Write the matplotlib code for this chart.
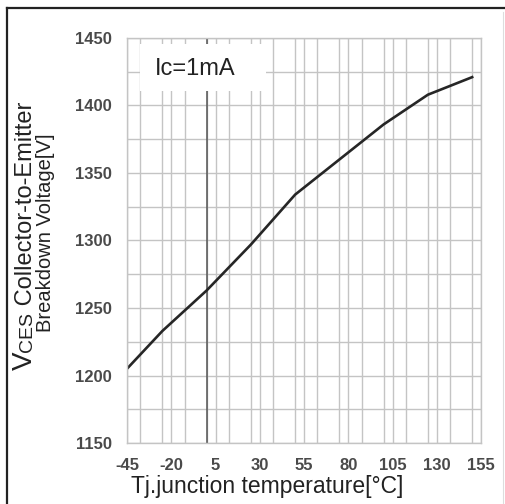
import matplotlib
matplotlib.use("Agg")
import matplotlib.pyplot as plt
from matplotlib.ticker import MultipleLocator
from matplotlib.patches import Rectangle
from matplotlib.lines import Line2D

# Tj [degC] vs VCES breakdown voltage [V] at Ic=1mA
temp = [-45, -25, 0, 25, 50, 75, 100, 125, 150]
vces = [1205, 1233, 1263, 1297, 1334, 1360, 1386, 1408, 1421]

x_ticks = [-45, -20, 5, 30, 55, 80, 105, 130, 155]
y_ticks = [1150, 1200, 1250, 1300, 1350, 1400, 1450]

W, H = 505, 504
plt.rcParams['font.family'] = ['Liberation Sans', 'DejaVu Sans']
plt.rcParams['axes.unicode_minus'] = False

fig = plt.figure(figsize=(W / 100, H / 100), dpi=100)
ax = fig.add_axes([127 / W, (H - 443) / H, (481 - 127) / W, (443 - 38) / H])

ax.set_xlim(-45, 155)
ax.set_ylim(1150, 1450)
ax.set_xticks(x_ticks)
ax.set_yticks(y_ticks)
ax.xaxis.set_minor_locator(MultipleLocator(12.5))
ax.yaxis.set_minor_locator(MultipleLocator(25))
ax.grid(which='both', color='#c4c4c4', lw=1.0)
ax.set_axisbelow(True)
ax.tick_params(which='both', length=0)
ax.tick_params(axis='y', pad=11, labelsize=12, labelcolor='#4a4a4a')
ax.tick_params(axis='x', pad=11, labelsize=12, labelcolor='#4a4a4a')
for lab in ax.get_xticklabels() + ax.get_yticklabels():
    lab.set_fontweight('bold')
for sp in ax.spines.values():
    sp.set_color('#c4c4c4')
    sp.set_linewidth(1.0)

# dark reference line at 0 degC
ax.axvline(0, color='#555555', lw=1.1, zorder=1.2)

# white box behind the condition label
ax.add_patch(Rectangle((-37.5, 1410.5), 71, 35, facecolor='white',
                       edgecolor='none', zorder=1.5))
ax.text(-29.5, 1422.5, 'Ic=1mA', fontsize=17, color='#222222', zorder=3)

ax.plot(temp, vces, color='#262626', lw=1.9, zorder=2.5,
        solid_joinstyle='round')

# x label
fig.text(131 / W, (H - 493) / H, 'Tj.junction temperature[\u00b0C]',
         fontsize=16.5, color='#222222', ha='left', va='baseline')

# y label, two lines, first one with the small caps "CES"
fig.canvas.draw()
r = fig.canvas.get_renderer()
parts = [('V', 20), ('CES', 14), (' Collector-to-Emitter', 17)]
tmp = []
for s, fs in parts:
    t = fig.text(0, 0, s, fontsize=fs, rotation=90)
    tmp.append(t.get_window_extent(r).height)
    t.remove()
y0 = 236 + sum(tmp) / 2
for (s, fs), h in zip(parts, tmp):
    fig.text(32 / W, (H - y0) / H, s, fontsize=fs, rotation=90,
             rotation_mode='anchor', ha='left', va='baseline',
             color='#222222')
    y0 -= h
fig.text(51 / W, (H - 233) / H, 'Breakdown Voltage[V]', fontsize=14.5,
         rotation=90, rotation_mode='anchor', ha='center', va='baseline',
         color='#222222')

# outer frame of the picture
fig.add_artist(Line2D([7 / W, 1], [1 - 8 / H, 1 - 8 / H], color='#222222',
                      lw=1.6, transform=fig.transFigure))
fig.add_artist(Line2D([7 / W, 7 / W], [0, 1 - 8 / H], color='#222222',
                      lw=1.6, transform=fig.transFigure))
fig.add_artist(Line2D([503 / W, 503 / W], [0, 1 - 12 / H], color='#dddddd',
                      lw=0.8, transform=fig.transFigure))

fig.savefig('out.png', dpi=100)
